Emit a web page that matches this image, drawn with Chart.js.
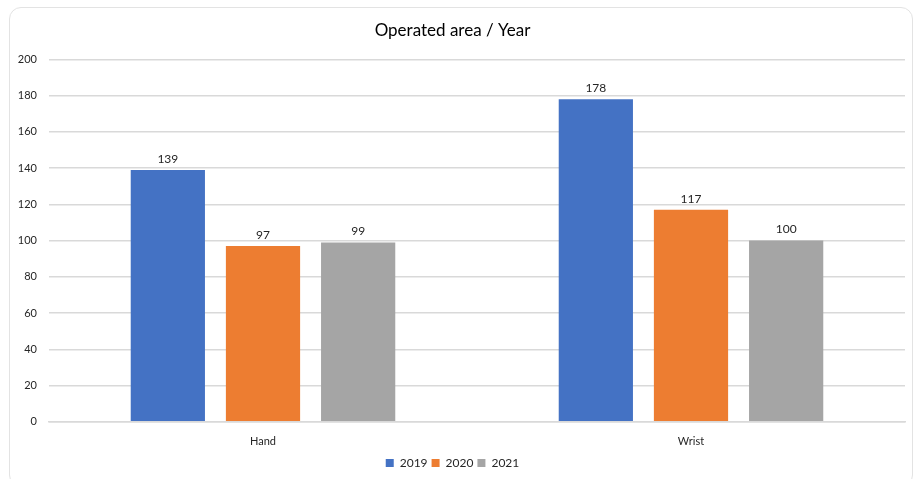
<!DOCTYPE html>
<html>
<head>
<meta charset="utf-8">
<script src="https://cdn.jsdelivr.net/npm/chart.js@4.4.0/dist/chart.umd.min.js"></script>
<style>
  html, body { margin: 0; padding: 0; background: #fff; }
  #wrap { position: relative; width: 917px; height: 479px; }
  #frame {
    position: absolute; left: 9px; top: 7px; width: 904px; height: 480px;
    border: 1.5px solid #e3e3e3; border-radius: 12px; box-sizing: border-box;
  }
  canvas { position: absolute; left: 0; top: 0; }
</style>
</head>
<body>
<div id="wrap">
  <div id="frame"></div>
  <canvas id="chart" width="917" height="479"></canvas>
</div>
<script>
const categories = ['Hand', 'Wrist'];
const years = ['2019', '2020', '2021'];
const values2019 = [139, 178];
const values2020 = [97, 117];
const values2021 = [99, 100];
const colors = ['#4472C4', '#ED7D31', '#A5A5A5'];
const yTicks = [0, 20, 40, 60, 80, 100, 120, 140, 160, 180, 200];

const fontName = 'Lato, "Open Sans", sans-serif';

// draw the value above each bar
const valueLabels = {
  id: 'valueLabels',
  afterDatasetsDraw(chart) {
    const ctx = chart.ctx;
    ctx.save();
    ctx.font = '12px ' + fontName;
    ctx.fillStyle = '#262626';
    ctx.textAlign = 'center';
    ctx.textBaseline = 'bottom';
    chart.data.datasets.forEach((ds, i) => {
      chart.getDatasetMeta(i).data.forEach((bar, j) => {
        ctx.fillText(ds.data[j], bar.x, bar.y - 5);
      });
    });
    ctx.restore();
  }
};

const series = [values2019, values2020, values2021];

const data = {
  labels: categories,
  datasets: years.map((y, i) => ({
    label: y,
    data: series[i],
    backgroundColor: colors[i],
    borderColor: colors[i],
    borderWidth: 0,
    barPercentage: 0.78,
    categoryPercentage: 0.667
  }))
};

const config = {
  type: 'bar',
  data: data,
  options: {
    responsive: false,
    animation: false,
    layout: { padding: { left: 0, right: 12, top: 14, bottom: 0 } },
    plugins: {
      title: {
        display: true,
        text: 'Operated area / Year',
        color: '#000',
        font: { family: fontName, size: 17, weight: 'normal' },
        padding: { top: 6, bottom: 19 }
      },
      legend: {
        position: 'bottom',
        labels: {
          boxWidth: 8, boxHeight: 8, padding: 4,
          color: '#262626',
          font: { family: fontName, size: 12 }
        }
      },
      tooltip: { enabled: false }
    },
    scales: {
      x: {
        grid: { display: false },
        border: { display: true, color: '#d9d9d9', width: 1.5 },
        ticks: { color: '#262626', font: { family: fontName, size: 11 }, padding: 5 }
      },
      y: {
        min: 0, max: 200,
        afterFit: s => { s.width = 49; },
        afterBuildTicks: s => { s.ticks = yTicks.map(v => ({ value: v })); },
        grid: { color: '#d9d9d9', lineWidth: 1.5, drawTicks: false },
        border: { display: false },
        ticks: { color: '#262626', font: { family: fontName, size: 11 }, padding: 12 }
      }
    }
  },
  plugins: [valueLabels]
};

new Chart(document.getElementById('chart'), config);
</script>
</body>
</html>
